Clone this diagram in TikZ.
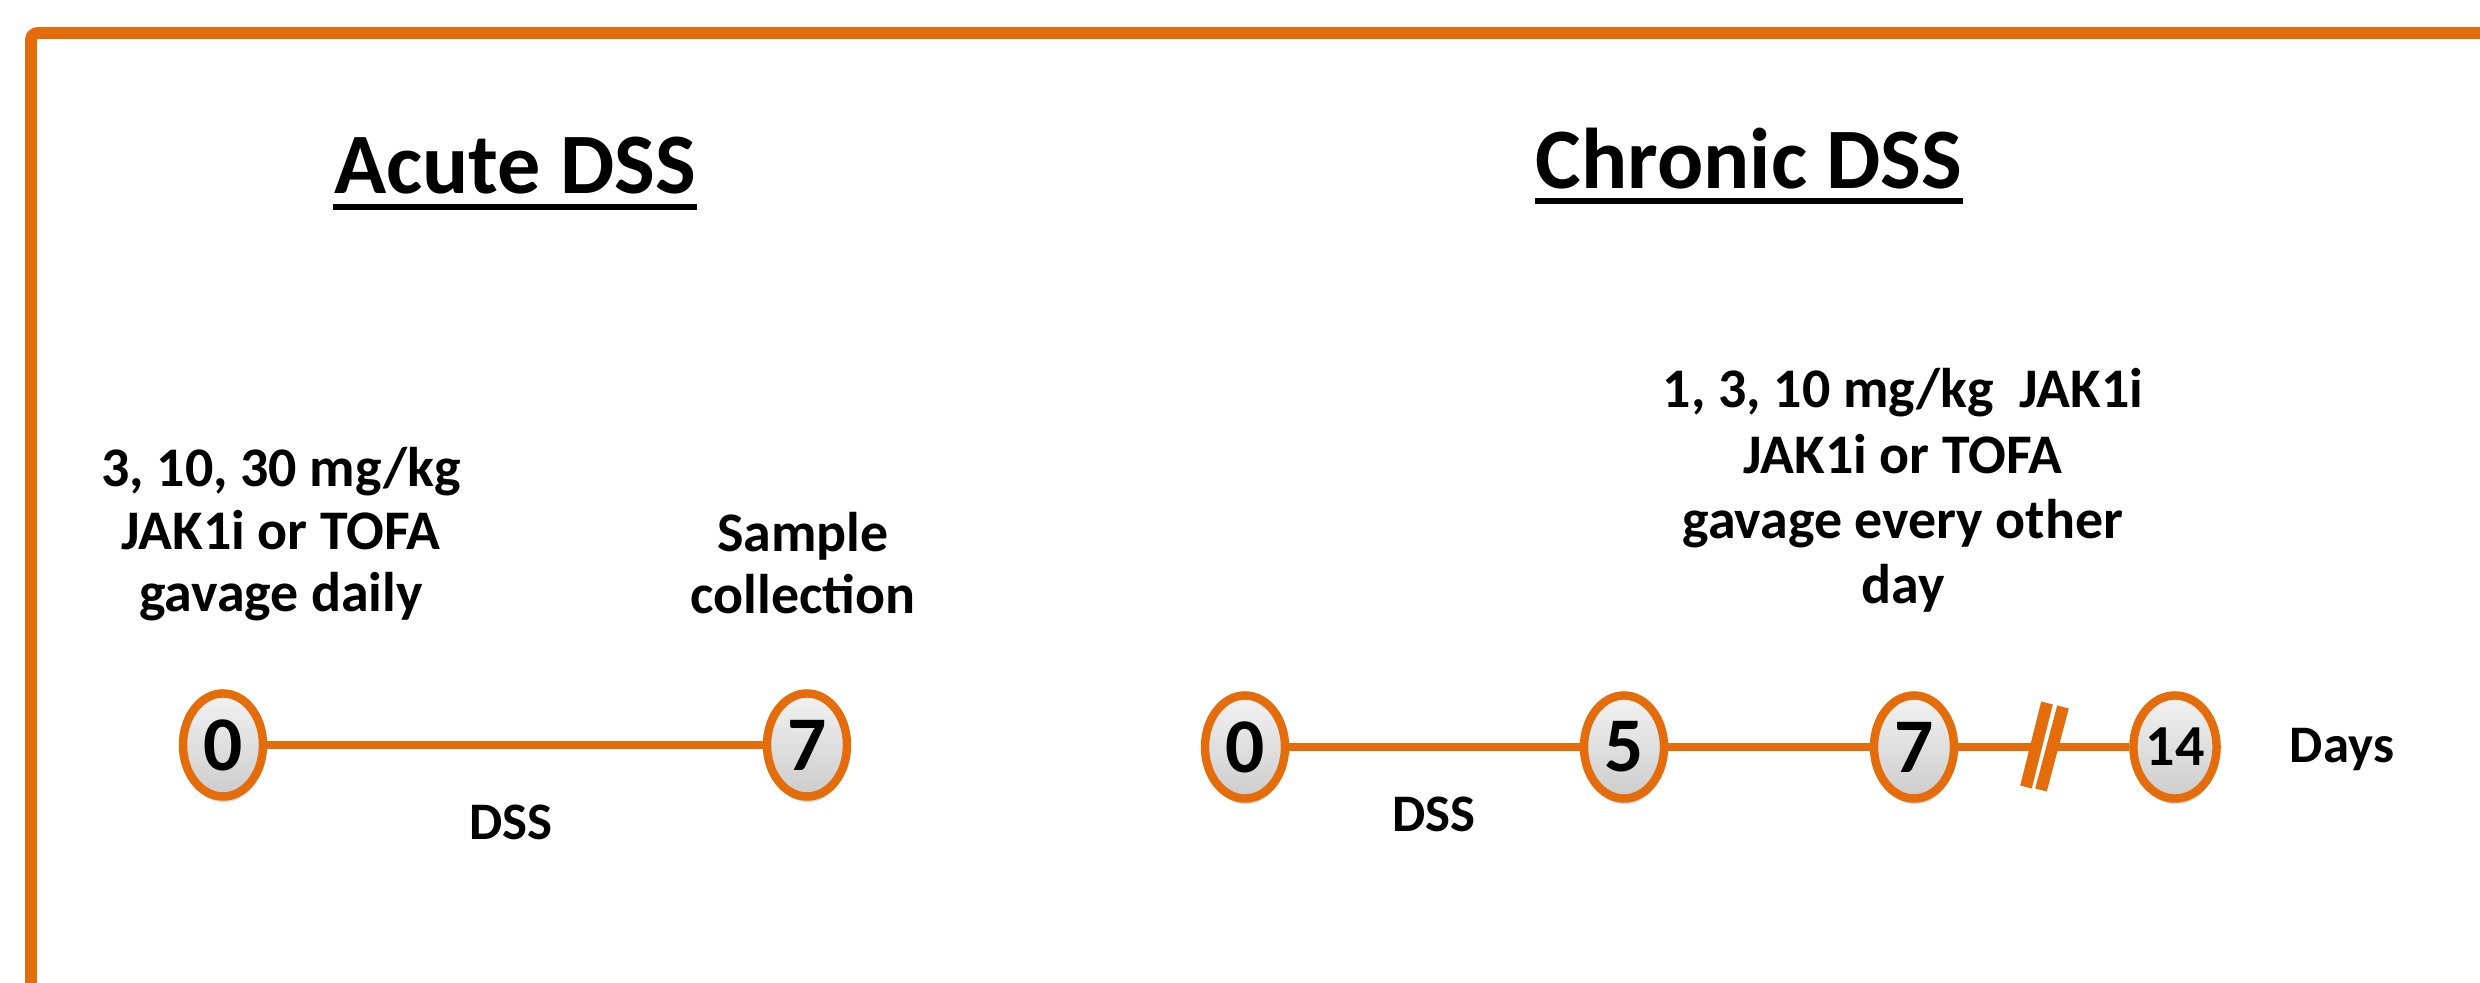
\documentclass[tikz,border=0pt]{standalone}
\usepackage{fontspec}
\setmainfont{Carlito}
\usetikzlibrary{shapes.geometric,shadows,calc}
\definecolor{orng}{HTML}{E46C0A}
\begin{document}
\begin{tikzpicture}[x=0.01cm,y=-0.01cm,
  daynode/.style={ellipse, draw=orng, line width=2.4pt, top color=gray!10, bottom color=gray!40,
    minimum width=0.8cm, minimum height=1.03cm, inner sep=0pt,
    font=\bfseries\fontsize{22}{22}\selectfont,
    drop shadow={shadow xshift=0.3pt, shadow yshift=-1.6pt, opacity=0.3}},
  smallnum/.style={font=\bfseries\fontsize{16.5}{16.5}\selectfont},
  tline/.style={draw=orng, line width=2.4pt},
  barline/.style={draw=orng, line width=3.4pt},
  title/.style={font=\bfseries\fontsize{24.5}{24.5}\selectfont, inner sep=0pt, anchor=base},
  body/.style={font=\bfseries\fontsize{15.9}{17.8}\selectfont, align=center, inner sep=0pt, anchor=base},
  lbl/.style={font=\bfseries\fontsize{15}{15}\selectfont, inner sep=0pt, anchor=base},
  uline/.style={draw=black, line width=1.7pt}
]
\useasboundingbox (0,0) rectangle (2480,983);
\clip (0,0) rectangle (2480,983);
% frame
\draw[orng, line width=3.4pt, rounded corners=2pt] (31,33) rectangle (2560,1060);

% titles
\node[title] (tA) at (515,194) {Acute DSS};
\node[title] (tC) at (1749,189) {Chronic DSS};
\draw[uline] ($(tA.base west)+(0,13)$) -- ($(tA.base east)+(0,13)$);
\draw[uline] ($(tC.base west)+(0,12)$) -- ($(tC.base east)+(0,12)$);

% acute timeline
\node[daynode] (a0) at (223,745) {0};
\node[daynode] (a7) at (807,745) {7};
\draw[tline] (a0) -- (a7);
\node[body] (aTxt) at (281,612) {3, 10, 30 mg/kg\\JAK1i or TOFA\\gavage daily};
\node[body] (aSmp) at (803,614) {Sample\\collection};
\node[lbl] (aDss) at (511,840) {DSS};

% chronic timeline
\node[daynode] (c0) at (1245,747) {0};
\node[daynode] (c5) at (1624,747) {5};
\node[daynode] (c7) at (1914,747) {7};
\node[daynode, smallnum] (c14) at (2175,747) {14};
\coordinate (bl) at (2036,747);
\coordinate (br) at (2052,747);
\draw[tline] (c0) -- (c5);
\draw[tline] (c5) -- (c7);
\draw[tline] (c7) -- (bl);
\draw[tline] (br) -- (c14);
\draw[barline] ($(bl)+(11,-44)$) -- ($(bl)+(-10,40)$);
\draw[barline] ($(br)+(11,-40)$) -- ($(br)+(-11,43)$);
\node[body, font=\bfseries\fontsize{15.9}{18.6}\selectfont] (cTxt) at (1903,604) {1, 3, 10 mg/kg~~JAK1i\\JAK1i or TOFA\\gavage every other\\day};
\node[lbl] (cDss) at (1434,832) {DSS};
\node[lbl] (days) at (2342,763) {Days};
\end{tikzpicture}
\end{document}
